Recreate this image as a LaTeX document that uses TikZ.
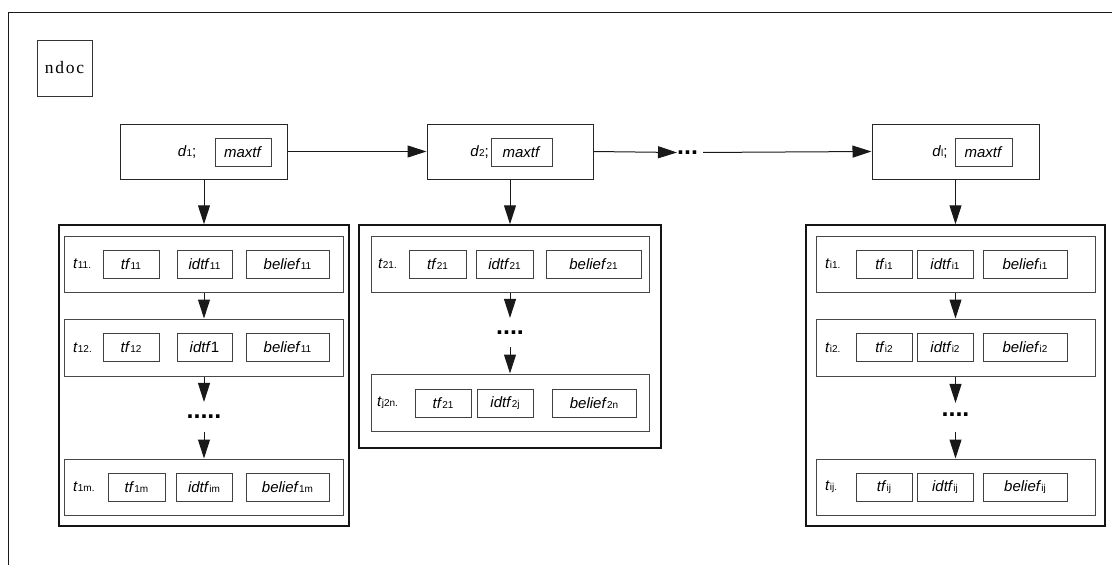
\documentclass[tikz,border=0pt]{standalone}
\usepackage{fontspec}
\setmainfont{Liberation Sans}
\newfontfamily\serifdoc{Liberation Serif}
\usetikzlibrary{arrows.meta}
% small index text set on the baseline
\newcommand\subtxt[1]{{\fontsize{10}{11}\selectfont #1}}
\newcommand\mainsize{\fontsize{15}{18}\selectfont}
\begin{document}
\begin{tikzpicture}[x=1pt,y=-1pt,
  every node/.style={inner sep=0pt, text=black},
  fld/.style={draw=black!75, line width=0.9pt, minimum height=28pt, font=\mainsize},
  rowbox/.style={draw=black!72, line width=1pt, minimum width=279pt, minimum height=56pt},
  grp/.style={draw=black!92, line width=1.5pt},
  docbox/.style={draw=black!85, line width=1pt, minimum width=167pt, minimum height=55pt},
  lbl/.style={anchor=west, font=\mainsize},
  arr/.style={-{Triangle[length=19pt,width=12pt]}, line width=1pt, black!90},
  dotsn/.style={font=\fontsize{25}{25}\selectfont\bfseries},
]
\useasboundingbox (0,0) rectangle (1112,565);

% outer frame (runs past the page on the right and bottom)
\draw[line width=1.5pt, black!90] (8.5,565) -- (8.5,12.5) -- (1112,12.5);

% counter
\node[draw=black!80, line width=1pt, minimum width=55pt, minimum height=56pt,
      font=\serifdoc\fontsize{17.5}{20}\selectfont] (ndoc) at (64.5,68) {n\hspace{1.8pt}d\hspace{1.8pt}o\hspace{1.8pt}c};

% ---------- document headers ----------
\node[docbox] (d1) at (204,151.5) {};
\node[fld, minimum width=56pt] (d1m) at (243,152) {\textit{maxtf}};
\node[font=\mainsize] (d1l) at (187,152) {\textit{d}\subtxt{1};};

\node[docbox, minimum width=166pt] (d2) at (510,151.5) {};
\node[fld, minimum width=61pt] (d2m) at (521.5,152) {\textit{maxtf}};
\node[font=\mainsize] (d2l) at (479.5,152) {\textit{d}\subtxt{2};};

\node[docbox] (dl) at (955.5,151.5) {};
\node[fld, minimum width=57pt] (dlm) at (983.5,152) {\textit{maxtf}};
\node[font=\mainsize] (dll) at (940,152) {\textit{d}\subtxt{l};};

\node[dotsn, anchor=west] (hdots) at (677,152.5) {...};

\draw[arr] (d1.east) -- (d2.west);
\draw[arr] (d2.east) -- (hdots.west);
\draw[arr, shorten <=5pt] (hdots.east) -- (dl.west);

% ---------- term list of d1 ----------
\node[grp, minimum width=290pt, minimum height=301pt] (g1) at (204,375.5) {};
\node[rowbox] (g1r1) at (204,264) {};
\node[rowbox, minimum height=57pt] (g1r2) at (204,347.5) {};
\node[rowbox] (g1r3) at (204,487) {};

\node[lbl] (g1r1l) at (73,264) {\textit{t}\subtxt{11.}};
\node[fld, minimum width=56pt] (g1r1a) at (131,264) {\textit{tf}\subtxt{11}};
\node[fld, minimum width=55pt] (g1r1b) at (204.5,264) {\textit{idtf}\subtxt{11}};
\node[fld, minimum width=83pt] (g1r1c) at (287.5,264) {\textit{belief}\subtxt{11}};

\node[lbl] (g1r2l) at (73,347.5) {\textit{t}\subtxt{12.}};
\node[fld, minimum width=56pt] (g1r2a) at (131,347.5) {\textit{tf}\subtxt{12}};
\node[fld, minimum width=55pt] (g1r2b) at (204.5,347.5) {\textit{idtf}1};
\node[fld, minimum width=83pt] (g1r2c) at (287.5,347.5) {\textit{belief}\subtxt{11}};

\node[lbl] (g1r3l) at (73,487) {\textit{t}\subtxt{1m.}};
\node[fld, minimum width=57pt] (g1r3a) at (136.5,487) {\textit{tf}\subtxt{1m}};
\node[fld, minimum width=56pt] (g1r3b) at (204,487) {\textit{idtf}\subtxt{im}};
\node[fld, minimum width=83pt] (g1r3c) at (287.5,487) {\textit{belief}\subtxt{1m}};

\node[dotsn] (g1dots) at (204,417) {.....};

\draw[arr] (d1.south) -- (g1.north);
\draw[arr] (g1r1.south) -- (g1r2.north);
\draw[arr, shorten >=13pt] (g1r2.south) -- (g1dots.north);
\draw[arr, shorten <=13pt] (g1dots.south) -- (g1r3.north);

% ---------- term list of d2 ----------
\node[grp, minimum width=302pt, minimum height=223pt] (g2) at (510,336.5) {};
\node[rowbox, minimum width=278pt] (g2r1) at (510,264) {};
\node[rowbox, minimum width=278pt, minimum height=57pt] (g2r2) at (510,402.5) {};

\node[lbl] (g2r1l) at (378,264) {\textit{t}\subtxt{21.}};
\node[fld, minimum width=57pt] (g2r1a) at (437.5,264) {\textit{tf}\subtxt{21}};
\node[fld, minimum width=57pt] (g2r1b) at (504.5,264) {\textit{idtf}\subtxt{21}};
\node[fld, minimum width=95pt] (g2r1c) at (593.5,264) {\textit{belief}\subtxt{21}};

\node[lbl] (g2r2l) at (377,403) {\textit{t}\subtxt{j2n.}};
\node[fld, minimum width=56pt] (g2r2a) at (443,403) {\textit{tf}\subtxt{21}};
\node[fld, minimum width=56pt] (g2r2b) at (505,403) {\textit{idtf}\subtxt{2j}};
\node[fld, minimum width=84pt] (g2r2c) at (594,403) {\textit{belief}\subtxt{2n}};

\node[dotsn] (g2dots) at (510,333) {....};

\draw[arr] (d2.south) -- (g2.north);
\draw[arr, shorten >=13pt] (g2r1.south) -- (g2dots.north);
\draw[arr, shorten <=12pt] (g2dots.south) -- (g2r2.north);

% ---------- term list of dl ----------
\node[grp, minimum width=299pt, minimum height=301pt] (gl) at (955.5,375.5) {};
\node[rowbox] (glr1) at (955.5,264) {};
\node[rowbox, minimum height=57pt] (glr2) at (955.5,347.5) {};
\node[rowbox] (glr3) at (955.5,487) {};

\node[lbl] (glr1l) at (825,264) {\textit{t}\subtxt{i1.}};
\node[fld, minimum width=56pt] (glr1a) at (884,264) {\textit{tf}\subtxt{i1}};
\node[fld, minimum width=56pt] (glr1b) at (945,264) {\textit{idtf}\subtxt{i1}};
\node[fld, minimum width=84pt] (glr1c) at (1025,264) {\textit{belief}\subtxt{i1}};

\node[lbl] (glr2l) at (825,347.5) {\textit{t}\subtxt{i2.}};
\node[fld, minimum width=56pt] (glr2a) at (884,347.5) {\textit{tf}\subtxt{i2}};
\node[fld, minimum width=56pt] (glr2b) at (945,347.5) {\textit{idtf}\subtxt{i2}};
\node[fld, minimum width=84pt] (glr2c) at (1025,347.5) {\textit{belief}\subtxt{i2}};

\node[lbl] (glr3l) at (825,487) {\textit{t}\subtxt{ij.}};
\node[fld, minimum width=56pt] (glr3a) at (884,487) {\textit{tf}\subtxt{ij}};
\node[fld, minimum width=56pt] (glr3b) at (945,487) {\textit{idtf}\subtxt{ij}};
\node[fld, minimum width=84pt] (glr3c) at (1025,487) {\textit{belief}\subtxt{ij}};

\node[dotsn] (gldots) at (955.5,415) {....};

\draw[arr] (dl.south) -- (gl.north);
\draw[arr] (glr1.south) -- (glr2.north);
\draw[arr, shorten >=10pt] (glr2.south) -- (gldots.north);
\draw[arr, shorten <=15pt] (gldots.south) -- (glr3.north);
\end{tikzpicture}
\end{document}
